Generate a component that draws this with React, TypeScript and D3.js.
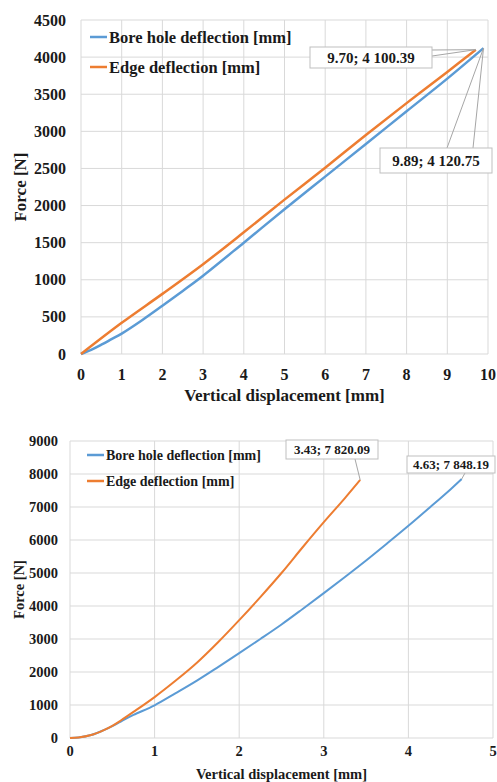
import React from "react";
import * as d3 from "d3";

// ---- Chart 1 data ----
const topXTicks = [0, 1, 2, 3, 4, 5, 6, 7, 8, 9, 10];
const topYTicks = [0, 500, 1000, 1500, 2000, 2500, 3000, 3500, 4000, 4500];
const topBoreX = [0, 0.25, 0.5, 0.75, 1, 1.5, 2, 2.5, 3, 4, 5, 6, 7, 8, 9, 9.89];
const topBoreY = [0, 55, 125, 200, 275, 455, 650, 850, 1055, 1500, 1950, 2390, 2830, 3270, 3710, 4120.75];
const topEdgeX = [0, 1, 2, 3, 4, 5, 6, 7, 8, 9, 9.7];
const topEdgeY = [0, 420, 810, 1210, 1640, 2080, 2510, 2950, 3380, 3800, 4100.39];

// ---- Chart 2 data ----
const botXTicks = [0, 1, 2, 3, 4, 5];
const botYTicks = [0, 1000, 2000, 3000, 4000, 5000, 6000, 7000, 8000, 9000];
const botBoreX = [0, 0.1, 0.25, 0.4, 0.5, 0.6, 0.75, 1, 1.25, 1.5, 1.75, 2, 2.25, 2.5, 2.75, 3, 3.25, 3.5, 3.75, 4, 4.25, 4.5, 4.63];
const botBoreY = [0, 15, 90, 240, 360, 500, 700, 990, 1360, 1740, 2150, 2570, 3000, 3440, 3910, 4390, 4880, 5380, 5900, 6430, 6980, 7540, 7848.19];
const botEdgeX = [0, 0.1, 0.25, 0.4, 0.5, 0.6, 0.75, 1, 1.25, 1.5, 1.75, 2, 2.25, 2.5, 2.75, 3, 3.25, 3.43];
const botEdgeY = [0, 15, 90, 240, 370, 530, 790, 1240, 1740, 2280, 2900, 3570, 4270, 5000, 5780, 6540, 7270, 7820.09];

const seriesNames = ["Bore hole deflection [mm]", "Edge deflection [mm]"];
const BLUE = "#5b9bd5";
const ORANGE = "#ed7d31";
const GRID = "#d9d9d9";
const FONT = "Liberation Serif, Times New Roman, DejaVu Serif, serif";

type Pt = [number, number];
const zip = (xs: number[], ys: number[]): Pt[] => xs.map((x, i) => [x, ys[i]]);

function Chart(props: {
  xDomain: [number, number];
  yDomain: [number, number];
  xRange: [number, number];
  yRange: [number, number];
  xTicks: number[];
  yTicks: number[];
  bore: Pt[];
  edge: Pt[];
  lineW: number;
  tickFont: number;
  yLabelX: number;
  xLabelY: number;
  xTitleY: number;
  yTitleX: number;
  titleFont: number;
  legendX: number;
  legendY: [number, number];
  legendFont: number;
  labels: { text: string; box: [number, number, number, number]; from: Pt[]; to: Pt; font: number }[];
}) {
  const x = d3.scaleLinear().domain(props.xDomain).range(props.xRange);
  const y = d3.scaleLinear().domain(props.yDomain).range(props.yRange);
  const line = d3
    .line<Pt>()
    .x((d) => x(d[0]))
    .y((d) => y(d[1]))
    .curve(d3.curveCatmullRom.alpha(0.5));
  const [x0, x1] = props.xRange;
  const [y0, y1] = props.yRange;
  return (
    <g style={{ fontFamily: FONT, fontWeight: "bold" }} fill="#1a1a1a">
      {props.xTicks.map((t) => (
        <line key={"gx" + t} x1={x(t)} x2={x(t)} y1={y0} y2={y1} stroke={GRID} strokeWidth={1} />
      ))}
      {props.yTicks.map((t) => (
        <line key={"gy" + t} x1={x0} x2={x1} y1={y(t)} y2={y(t)} stroke={GRID} strokeWidth={1} />
      ))}
      {props.yTicks.map((t) => (
        <text key={"ly" + t} x={props.yLabelX} y={y(t)} dy="0.35em" textAnchor="end" fontSize={props.tickFont}>
          {t}
        </text>
      ))}
      {props.xTicks.map((t) => (
        <text key={"lx" + t} x={x(t)} y={props.xLabelY} dy="0.35em" textAnchor="middle" fontSize={props.tickFont}>
          {t}
        </text>
      ))}
      <text x={(x0 + x1) / 2} y={props.xTitleY} dy="0.35em" textAnchor="middle" fontSize={props.titleFont}>
        Vertical displacement [mm]
      </text>
      <text
        transform={`translate(${props.yTitleX},${(y0 + y1) / 2}) rotate(-90)`}
        dy="0.35em"
        textAnchor="middle"
        fontSize={props.titleFont}
      >
        Force [N]
      </text>
      <path d={line(props.bore) || ""} fill="none" stroke={BLUE} strokeWidth={props.lineW} />
      <path d={line(props.edge) || ""} fill="none" stroke={ORANGE} strokeWidth={props.lineW} />
      {[BLUE, ORANGE].map((c, i) => (
        <g key={"lg" + i}>
          <line
            x1={props.legendX}
            x2={props.legendX + 17}
            y1={props.legendY[i]}
            y2={props.legendY[i]}
            stroke={c}
            strokeWidth={2.5}
          />
          <text x={props.legendX + 19} y={props.legendY[i]} dy="0.35em" fontSize={props.legendFont}>
            {seriesNames[i]}
          </text>
        </g>
      ))}
      {props.labels.map((l, i) => (
        <g key={"dl" + i}>
          {l.from.map((f, j) => (
            <line key={j} x1={f[0]} y1={f[1]} x2={x(l.to[0])} y2={y(l.to[1])} stroke="#a6a6a6" strokeWidth={1} />
          ))}
          <rect
            x={l.box[0]}
            y={l.box[1]}
            width={l.box[2] - l.box[0]}
            height={l.box[3] - l.box[1]}
            fill="#fff"
            stroke="#bfbfbf"
            strokeWidth={1}
          />
          <text
            x={(l.box[0] + l.box[2]) / 2}
            y={(l.box[1] + l.box[3]) / 2}
            dy="0.35em"
            textAnchor="middle"
            fontSize={l.font}
          >
            {l.text}
          </text>
        </g>
      ))}
    </g>
  );
}

export default function App() {
  return (
    <svg
      width={497}
      height={782}
      style={{ position: "absolute", left: 0, top: 0, background: "#fff" }}
    >
      <rect width={497} height={782} fill="#fff" />
      <Chart
        xDomain={[0, 10]}
        yDomain={[0, 4500]}
        xRange={[81, 488]}
        yRange={[354, 20]}
        xTicks={topXTicks}
        yTicks={topYTicks}
        bore={zip(topBoreX, topBoreY)}
        edge={zip(topEdgeX, topEdgeY)}
        lineW={2.5}
        tickFont={16}
        yLabelX={66}
        xLabelY={374}
        xTitleY={395}
        yTitleX={20}
        titleFont={17}
        legendX={90}
        legendY={[37, 67]}
        legendFont={16.5}
        labels={[
          {
            text: "9.70; 4 100.39",
            box: [310, 47, 432, 68],
            from: [
              [432, 50],
              [432, 56],
            ],
            to: [9.7, 4100.39],
            font: 15,
          },
          {
            text: "9.89; 4 120.75",
            box: [380, 148, 492, 173],
            from: [
              [447, 148],
              [473, 148],
            ],
            to: [9.89, 4120.75],
            font: 15,
          },
        ]}
      />
      <Chart
        xDomain={[0, 5]}
        yDomain={[0, 9000]}
        xRange={[70, 493]}
        yRange={[738, 441]}
        xTicks={botXTicks}
        yTicks={botYTicks}
        bore={zip(botBoreX, botBoreY)}
        edge={zip(botEdgeX, botEdgeY)}
        lineW={2}
        tickFont={14.5}
        yLabelX={58}
        xLabelY={751}
        xTitleY={774}
        yTitleX={19}
        titleFont={14.5}
        legendX={87}
        legendY={[455, 481]}
        legendFont={14}
        labels={[
          {
            text: "3.43; 7 820.09",
            box: [286, 440, 378, 459],
            from: [[355, 459]],
            to: [3.43, 7820.09],
            font: 13,
          },
          {
            text: "4.63; 7 848.19",
            box: [407, 456, 495, 473],
            from: [[465, 473]],
            to: [4.63, 7848.19],
            font: 13,
          },
        ]}
      />
    </svg>
  );
}
